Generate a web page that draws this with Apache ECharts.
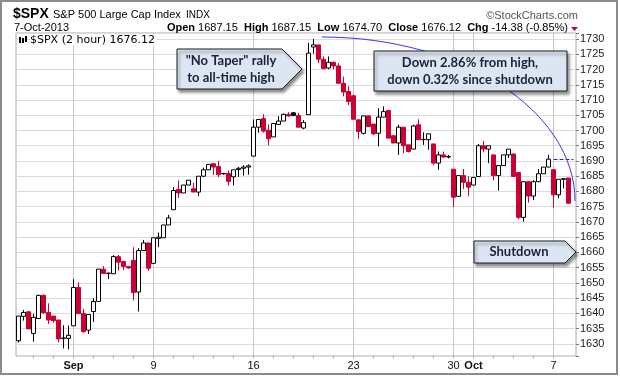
<!DOCTYPE html>
<html>
<head>
<meta charset="utf-8">
<script src="https://cdn.jsdelivr.net/npm/echarts@6/dist/echarts.min.js"></script>
<style>
  html, body { margin: 0; padding: 0; background: #fff; }
  #chart { width: 620px; height: 376px; }
</style>
</head>
<body>
<div id="chart"></div>
<script>
// 2 hour bars, 28 Aug - 7 Oct 2013
var tradingDays = ['08-28', '08-29', '08-30', '09-03', '09-04', '09-05', '09-06',
  '09-09', '09-10', '09-11', '09-12', '09-13', '09-16', '09-17', '09-18', '09-19', '09-20',
  '09-23', '09-24', '09-25', '09-26', '09-27', '09-30', '10-01', '10-02', '10-03', '10-04', '10-07'];
var barSlots = ['09:30', '11:30', '13:30', '15:30'];
var tickLabels = { '09-03': 'Sep', '09-09': '9', '09-16': '16', '09-23': '23',
  '09-30': '30', '10-01': 'Oct', '10-07': '7' };

var opens = [
  1631.0, 1639.0, 1640.5, 1633.4, 1638.3, 1645.9, 1640.3, 1639.1, 1637.8, 1631.8,
  1631.8, 1635.9, 1648.5, 1640.0, 1634.5, 1640.6, 1643.9, 1654.5, 1653.1, 1653.0,
  1658.6, 1657.0, 1655.4, 1657.4, 1647.0, 1660.6, 1663.1, 1656.4, 1664.6, 1664.8,
  1669.0, 1674.0, 1680.7, 1679.5, 1682.1, 1680.9, 1679.8, 1685.0, 1687.1, 1689.1,
  1688.2, 1685.9, 1685.9, 1684.8, 1687.2, 1687.6, 1688.0, 1691.6, 1701.1, 1703.9,
  1700.1, 1697.9, 1702.0, 1703.1, 1705.3, 1705.8, 1704.9, 1700.8, 1705.2, 1727.4,
  1728.1, 1723.4, 1720.5, 1722.4, 1721.2, 1715.5, 1712.8, 1711.4, 1703.5, 1699.1,
  1704.8, 1702.1, 1699.1, 1704.4, 1706.6, 1698.3, 1695.9, 1701.1, 1695.3, 1693.9,
  1701.9, 1697.0, 1697.0, 1695.6, 1689.3, 1692.0, 1691.3, 1687.3, 1678.4, 1685.2,
  1683.0, 1682.1, 1684.9, 1695.0, 1693.9, 1692.0, 1685.2, 1688.5, 1692.0, 1692.3,
  1686.2, 1671.5, 1683.2, 1678.5, 1683.2, 1685.8, 1688.0, 1687.15, 1678.9, 1684.0,
  1684.4];
var closes = [
  1639.1, 1640.3, 1634.9, 1638.7, 1645.9, 1640.2, 1637.8, 1637.6, 1631.6, 1631.9,
  1632.8, 1648.5, 1639.9, 1634.0, 1639.6, 1643.9, 1654.5, 1653.1, 1653.2, 1658.6,
  1656.8, 1655.4, 1654.9, 1646.8, 1660.6, 1663.1, 1654.8, 1664.8, 1665.0, 1669.0,
  1671.3, 1680.3, 1679.5, 1682.1, 1683.7, 1679.8, 1685.0, 1687.1, 1688.9, 1688.0,
  1685.5, 1685.8, 1683.3, 1687.1, 1687.6, 1688.0, 1688.4, 1701.1, 1703.6, 1699.8,
  1697.3, 1702.3, 1703.1, 1705.3, 1704.8, 1704.9, 1701.1, 1702.6, 1725.4, 1728.1,
  1723.4, 1720.3, 1722.4, 1721.2, 1715.5, 1712.6, 1709.5, 1703.7, 1699.7, 1704.8,
  1701.3, 1698.9, 1704.4, 1706.2, 1697.5, 1695.9, 1701.1, 1695.0, 1693.1, 1701.5,
  1697.0, 1697.1, 1698.9, 1689.3, 1692.0, 1691.3, 1691.5, 1678.1, 1685.2, 1683.0,
  1681.4, 1684.6, 1695.0, 1693.9, 1695.0, 1685.2, 1688.5, 1692.0, 1693.9, 1684.9,
  1671.5, 1683.2, 1678.5, 1683.2, 1685.8, 1688.0, 1690.6, 1678.9, 1684.0, 1684.2,
  1676.12];
var lows = [
  1630.4, 1637.6, 1634.9, 1630.7, 1638.3, 1639.8, 1636.5, 1636.9, 1630.5, 1628.5,
  1628.2, 1635.9, 1639.9, 1633.6, 1633.2, 1637.2, 1643.9, 1652.9, 1651.2, 1653.0,
  1654.0, 1654.2, 1654.6, 1644.2, 1640.6, 1660.6, 1654.0, 1656.4, 1661.7, 1664.8,
  1669.0, 1674.0, 1677.9, 1679.5, 1682.1, 1679.8, 1678.5, 1684.7, 1687.1, 1685.5,
  1684.7, 1685.5, 1681.9, 1682.0, 1684.8, 1685.2, 1685.5, 1691.6, 1699.3, 1699.3,
  1695.1, 1697.9, 1702.0, 1703.1, 1704.5, 1704.7, 1701.1, 1700.4, 1705.2, 1725.2,
  1722.1, 1720.3, 1720.1, 1720.1, 1715.5, 1711.2, 1708.4, 1703.7, 1697.2, 1698.7,
  1701.3, 1698.5, 1694.8, 1704.4, 1697.5, 1695.9, 1692.0, 1692.6, 1692.8, 1693.9,
  1697.0, 1695.3, 1693.7, 1688.7, 1687.1, 1691.0, 1690.8, 1674.9, 1678.4, 1680.8,
  1678.4, 1682.1, 1684.9, 1692.8, 1689.3, 1683.6, 1680.3, 1688.5, 1691.0, 1684.9,
  1670.9, 1670.1, 1676.3, 1677.2, 1683.2, 1685.8, 1688.0, 1674.7, 1677.8, 1681.0,
  1676.12];
var highs = [
  1639.1, 1641.1, 1640.7, 1639.8, 1646.1, 1646.2, 1643.3, 1639.1, 1637.8, 1636.1,
  1636.0, 1651.2, 1650.2, 1641.4, 1639.6, 1644.9, 1654.5, 1655.5, 1653.3, 1659.1,
  1659.1, 1657.3, 1655.4, 1661.7, 1661.4, 1664.1, 1663.1, 1664.8, 1666.5, 1669.0,
  1672.3, 1681.4, 1683.6, 1682.1, 1683.7, 1682.9, 1685.0, 1687.8, 1688.9, 1689.1,
  1690.0, 1686.1, 1686.9, 1687.1, 1688.0, 1688.6, 1688.9, 1703.6, 1703.6, 1705.3,
  1702.0, 1702.3, 1704.7, 1705.6, 1706.0, 1706.1, 1705.8, 1703.4, 1728.8, 1730.0,
  1728.1, 1724.3, 1724.3, 1722.6, 1722.1, 1717.7, 1714.5, 1711.8, 1703.5, 1704.8,
  1704.8, 1702.1, 1707.3, 1707.9, 1706.6, 1698.3, 1701.9, 1701.1, 1695.3, 1701.9,
  1703.7, 1699.4, 1698.9, 1695.6, 1693.1, 1693.1, 1692.0, 1687.3, 1685.2, 1687.4,
  1685.0, 1684.6, 1695.6, 1696.6, 1695.0, 1692.0, 1688.5, 1692.0, 1693.9, 1692.3,
  1686.2, 1683.2, 1683.2, 1683.7, 1687.3, 1688.0, 1692.0, 1687.15, 1684.0, 1684.2,
  1684.4];
var prevClose = 1690.50;

// category per bar (first day starts at the 11:30 bar), plus one blank slot on the right
var categories = [];
var labelFor = {};
var dayStart = {};
tradingDays.forEach(function (d, di) {
  barSlots.forEach(function (t, si) {
    if (di === 0 && si === 0) return;
    var name = d + ' ' + t;
    if (si === 0) {
      dayStart[categories.length] = true;
      if (tickLabels[d]) labelFor[categories.length] = tickLabels[d];
    }
    categories.push(name);
  });
});
categories.push('end');

var RED = '#cc0033';
var candles = opens.map(function (o, i) {
  var c = closes[i];
  var item = { value: [o, c, lows[i], highs[i]] };
  var pc = i > 0 ? closes[i - 1] : c;
  // filled black: closed below its open but above the previous close
  if (c < o && c >= pc) {
    item.itemStyle = { color0: '#000', borderColor0: '#000' };
  }
  return item;
});

var font = '"Liberation Sans", Arial, sans-serif';
var calloutStyle = {
  fill: '#dce6f2', stroke: '#1a1a1a', lineWidth: 1,
  shadowBlur: 3, shadowOffsetX: 2, shadowOffsetY: 3, shadowColor: 'rgba(0,0,0,0.45)'
};
var calloutText = { font: 'bold 13px Lato, sans-serif', fill: '#1c2038', align: 'center', verticalAlign: 'middle' };

var chart = echarts.init(document.getElementById('chart'), null, { renderer: 'canvas' });
chart.setOption({
  animation: false,
  backgroundColor: '#fff',
  grid: {
    left: 16, right: 44, top: 33, bottom: 20,
    show: true, borderColor: '#a8a8a8', borderWidth: 1, backgroundColor: '#fff'
  },
  xAxis: [
    {
      type: 'category',
      data: categories,
      boundaryGap: true,
      axisLine: { show: false },
      axisTick: {
        show: true, alignWithLabel: true, inside: true, length: 323,
        interval: function (i) { return labelFor[i] !== undefined; },
        lineStyle: { color: '#c6c6c6' }
      },
      axisLabel: {
        interval: function (i) { return labelFor[i] !== undefined; },
        formatter: function (v, i) {
          var lab = labelFor[i] || '';
          return (lab === 'Sep' || lab === 'Oct') ? '{b|' + lab + '}' : lab;
        },
        margin: 4, fontSize: 11, fontFamily: font, color: '#111',
        rich: { b: { fontWeight: 'bold', fontSize: 11, fontFamily: font, color: '#111' } }
      },
      splitLine: { show: false }
    },
    {
      type: 'category',
      data: categories,
      position: 'bottom',
      axisLine: { show: false },
      axisTick: {
        show: true, alignWithLabel: true, length: 2,
        interval: function (i) { return !!dayStart[i]; },
        lineStyle: { color: '#9a9a9a' }
      },
      axisLabel: { show: false },
      splitLine: { show: false }
    }
  ],
  yAxis: {
    type: 'value',
    position: 'right',
    min: 1626,
    max: 1732,
    splitNumber: 21,
    axisLine: { show: false },
    axisTick: { show: true, length: 3, lineStyle: { color: '#777' } },
    axisLabel: {
      margin: 4, fontSize: 11, fontFamily: font, color: '#222',
      formatter: function (v) { return v % 5 === 0 ? String(v) : ''; }
    },
    splitLine: { lineStyle: { color: '#dcdcdc' } }
  },
  series: [
    {
      type: 'candlestick',
      data: candles,
      barWidth: 4,
      itemStyle: {
        color: '#ffffff', color0: RED,
        borderColor: '#000', borderColor0: RED, borderWidth: 1
      },
      markLine: {
        silent: true,
        symbol: 'none',
        label: { show: false },
        lineStyle: { color: '#2424d8', type: [4, 2], width: 1 },
        data: [[{ coord: [categories[107], prevClose] }, { coord: ['end', prevClose] }]]
      }
    }
  ],
  graphic: [
    // outer frame
    { type: 'rect', z: 200, shape: { x: 1, y: 1, width: 616, height: 373 },
      style: { fill: 'none', stroke: '#8c8c8c', lineWidth: 2 } },
    // header
    { type: 'text', x: 13, y: 7, z: 50, style: { text: '$SPX', font: 'bold 14px ' + font, fill: '#000', verticalAlign: 'top' } },
    { type: 'text', x: 53, y: 9, z: 50, style: { text: 'S&P 500 Large Cap Index', font: '11px ' + font, fill: '#000', verticalAlign: 'top' } },
    { type: 'text', x: 186, y: 10, z: 50, style: { text: 'INDX', font: '10px ' + font, fill: '#000', verticalAlign: 'top' } },
    { type: 'text', x: 578, y: 10, z: 50, style: { text: '\u00a9StockCharts.com', font: '11px ' + font, fill: '#555', align: 'right', verticalAlign: 'top' } },
    { type: 'text', x: 14, y: 22, z: 50, style: { text: '7-Oct-2013', font: '11px ' + font, fill: '#000', verticalAlign: 'top' } },
    { type: 'text', x: 568, y: 22, z: 50, style: {
        text: '{b|Open} 1687.15  {b|High} 1687.15  {b|Low} 1674.70  {b|Close} 1676.12  {b|Chg} -14.38 (-0.85%)',
        font: '11px ' + font, fill: '#000', align: 'right', verticalAlign: 'top',
        rich: { b: { font: 'bold 11px ' + font, fill: '#000' } }
      } },
    { type: 'polygon', z: 50, shape: { points: [[571, 27], [578, 27], [574.5, 31]] }, style: { fill: RED } },
    // in-plot label
    { type: 'rect', z: 50, shape: { x: 19, y: 37, width: 2, height: 6 }, style: { fill: '#000' } },
    { type: 'rect', z: 50, shape: { x: 22, y: 38, width: 2, height: 5 }, style: { fill: '#000' } },
    { type: 'rect', z: 50, shape: { x: 25, y: 36, width: 2, height: 6 }, style: { fill: '#000' } },
    { type: 'text', x: 30, y: 40, z: 50, style: {
        text: '$SPX (2 hour) 1676.12', font: '11px "DejaVu Sans", sans-serif', fill: '#000',
        verticalAlign: 'middle', backgroundColor: '#fff', padding: [0, 2, 0, 0]
      } },
    // arc from the high
    { type: 'bezierCurve', z: 90, shape: { x1: 322, y1: 37, x2: 575, y2: 201, cpx1: 462, cpy1: 37, cpx2: 575, cpy2: 111 },
      style: { fill: 'none', stroke: '#3838f0', lineWidth: 1 } },
    // callouts
    { type: 'polygon', z: 100, shape: { points: [[177, 49], [282, 49], [302, 69], [282, 89], [177, 89]] }, style: calloutStyle },
    { type: 'text', x: 231, y: 69, z: 101, style: Object.assign({ text: '"No Taper" rally\nto all-time high', lineHeight: 17 }, calloutText) },
    { type: 'rect', z: 100, shape: { x: 374, y: 51, width: 193, height: 40 }, style: calloutStyle },
    { type: 'text', x: 470, y: 71, z: 101, style: Object.assign({ text: 'Down 2.86% from high,\ndown 0.32% since shutdown', lineHeight: 17 }, calloutText) },
    { type: 'polygon', z: 100, shape: { points: [[474, 241], [565, 241], [576, 252], [565, 263], [474, 263]] }, style: calloutStyle },
    { type: 'text', x: 519, y: 252, z: 101, style: Object.assign({ text: 'Shutdown' }, calloutText) }
  ]
});
</script>
</body>
</html>
